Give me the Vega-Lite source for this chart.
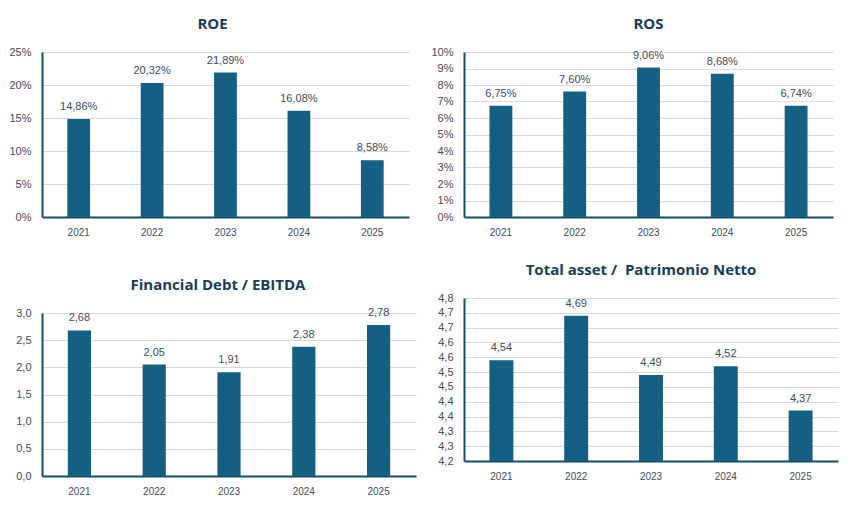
{
  "$schema": "https://vega.github.io/schema/vega-lite/v6.json",
  "background": "white",
  "padding": {"left": 8, "top": 17, "right": 5, "bottom": 5},
  "datasets": {
    "roe": [
      {"year": "2021", "value": 0.1486},
      {"year": "2022", "value": 0.2032},
      {"year": "2023", "value": 0.2189},
      {"year": "2024", "value": 0.1608},
      {"year": "2025", "value": 0.0858}
    ],
    "ros": [
      {"year": "2021", "value": 0.0675},
      {"year": "2022", "value": 0.0760},
      {"year": "2023", "value": 0.0906},
      {"year": "2024", "value": 0.0868},
      {"year": "2025", "value": 0.0674}
    ],
    "debt": [
      {"year": "2021", "value": 2.68},
      {"year": "2022", "value": 2.05},
      {"year": "2023", "value": 1.91},
      {"year": "2024", "value": 2.38},
      {"year": "2025", "value": 2.78}
    ],
    "asset": [
      {"year": "2021", "value": 4.54},
      {"year": "2022", "value": 4.69},
      {"year": "2023", "value": 4.49},
      {"year": "2024", "value": 4.52},
      {"year": "2025", "value": 4.37}
    ]
  },
  "spacing": 14,
  "hconcat": [
    {
      "bounds": "flush",
      "spacing": 96,
      "vconcat": [
        {
          "width": 367,
          "height": 165,
          "title": {"text": "ROE", "dx": -13},
          "data": {"name": "roe"},
          "encoding": {
            "x": {"field": "year", "type": "nominal", "scale": {"paddingInner": 0, "paddingOuter": 0}, "axis": {"title": null}},
            "y": {"field": "value", "type": "quantitative", "scale": {"domain": [0, 0.25], "nice": false}, "axis": {"title": null, "format": ".0%", "values": [0, 0.05, 0.1, 0.15, 0.2, 0.25]}}
          },
          "layer": [
            {"mark": {"type": "bar", "width": {"band": 0.31}}},
            {"mark": {"type": "text", "baseline": "bottom", "dy": -7}, "encoding": {"text": {"field": "value", "type": "quantitative", "format": ".2%"}}}
          ]
        },
        {
          "width": 374,
          "height": 163,
          "title": {"text": "Financial Debt / EBITDA", "dx": -11},
          "data": {"name": "debt"},
          "encoding": {
            "x": {"field": "year", "type": "nominal", "scale": {"paddingInner": 0, "paddingOuter": 0}, "axis": {"title": null}},
            "y": {"field": "value", "type": "quantitative", "scale": {"domain": [0, 3], "nice": false}, "axis": {"title": null, "format": ".1f", "values": [0, 0.5, 1, 1.5, 2, 2.5, 3]}}
          },
          "layer": [
            {"mark": {"type": "bar", "width": {"band": 0.31}}},
            {"mark": {"type": "text", "baseline": "bottom", "dy": -7}, "encoding": {"text": {"field": "value", "type": "quantitative", "format": ".2f"}}}
          ]
        }
      ]
    },
    {
      "bounds": "flush",
      "spacing": 81,
      "vconcat": [
        {
          "width": 369,
          "height": 165,
          "title": "ROS",
          "data": {"name": "ros"},
          "encoding": {
            "x": {"field": "year", "type": "nominal", "scale": {"paddingInner": 0, "paddingOuter": 0}, "axis": {"title": null}},
            "y": {"field": "value", "type": "quantitative", "scale": {"domain": [0, 0.1], "nice": false}, "axis": {"title": null, "format": ".0%", "values": [0, 0.01, 0.02, 0.03, 0.04, 0.05, 0.06, 0.07, 0.08, 0.09, 0.1]}}
          },
          "layer": [
            {"mark": {"type": "bar", "width": {"band": 0.31}}},
            {"mark": {"type": "text", "baseline": "bottom", "dy": -7}, "encoding": {"text": {"field": "value", "type": "quantitative", "format": ".2%"}}}
          ]
        },
        {
          "width": 374,
          "height": 163,
          "title": {"text": "Total asset /\u00a0 Patrimonio Netto", "dx": -10},
          "data": {"name": "asset"},
          "encoding": {
            "x": {"field": "year", "type": "nominal", "scale": {"paddingInner": 0, "paddingOuter": 0}, "axis": {"title": null}},
            "y": {"field": "value", "type": "quantitative", "scale": {"domain": [4.2, 4.75], "nice": false, "zero": false}, "axis": {"title": null, "values": [4.2, 4.25, 4.3, 4.35, 4.4, 4.45, 4.5, 4.55, 4.6, 4.65, 4.7, 4.75], "labelExpr": "format(datum.value + 0.0001, '.1f')"}}
          },
          "layer": [
            {"mark": {"type": "bar", "width": {"band": 0.32}, "clip": true}},
            {"mark": {"type": "text", "baseline": "bottom", "dy": -7}, "encoding": {"text": {"field": "value", "type": "quantitative", "format": ".2f"}}}
          ]
        }
      ]
    }
  ],
  "config": {
    "locale": {"number": {"decimal": ",", "thousands": ".", "grouping": [3], "currency": ["€", ""]}},
    "font": "Liberation Sans",
    "view": {"stroke": null},
    "bar": {"color": "#156082"},
    "text": {"color": "#3d4b5c", "fontSize": 11, "font": "Liberation Sans"},
    "title": {"font": "Open Sans", "fontSize": 15, "fontWeight": "bold", "color": "#173d57", "anchor": "middle", "offset": 14},
    "axis": {
      "labelFont": "Liberation Sans",
      "labelFontSize": 10,
      "labelColor": "#3d4b5c",
      "ticks": false,
      "domainColor": "#124e66",
      "domainWidth": 2,
      "gridColor": "#d9d9d9",
      "gridWidth": 1,
      "labelPadding": 9
    },
    "axisX": {"labelAngle": 0, "grid": false, "labelPadding": 10},
    "axisY": {"grid": true, "labelFontSize": 11, "labelPadding": 11}
  }
}
